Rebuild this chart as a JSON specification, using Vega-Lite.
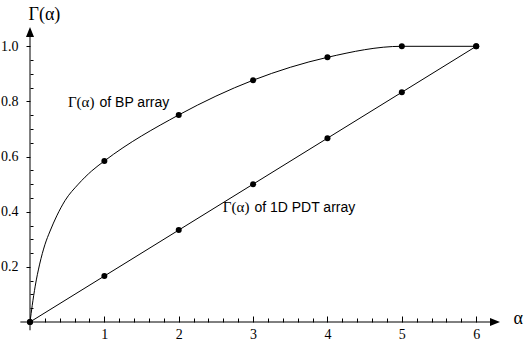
{
  "$schema": "https://vega.github.io/schema/vega-lite/v6.json",
  "width": 470,
  "height": 295,
  "autosize": {"type": "none"},
  "padding": {"left": 30, "top": 27, "right": 25, "bottom": 23},
  "background": "white",
  "config": {"view": {"stroke": null}},
  "datasets": {
    "bp_points": [
      {"alpha": 0, "gamma": 0}, {"alpha": 1, "gamma": 0.584}, {"alpha": 2, "gamma": 0.751},
      {"alpha": 3, "gamma": 0.877}, {"alpha": 4, "gamma": 0.96}, {"alpha": 5, "gamma": 1.0}, {"alpha": 6, "gamma": 1.0}
    ],
    "bp_curve": [
      {"alpha": 0, "gamma": 0}, {"alpha": 0.03, "gamma": 0.06}, {"alpha": 0.07, "gamma": 0.13},
      {"alpha": 0.13, "gamma": 0.21}, {"alpha": 0.2, "gamma": 0.28}, {"alpha": 0.27, "gamma": 0.33},
      {"alpha": 0.36, "gamma": 0.385}, {"alpha": 0.47, "gamma": 0.44}, {"alpha": 0.65, "gamma": 0.5},
      {"alpha": 0.83, "gamma": 0.548}, {"alpha": 1, "gamma": 0.584}, {"alpha": 2, "gamma": 0.751},
      {"alpha": 3, "gamma": 0.877}, {"alpha": 4, "gamma": 0.96}, {"alpha": 5, "gamma": 1.0}, {"alpha": 6, "gamma": 1.0}
    ],
    "pdt": [
      {"alpha": 0, "gamma": 0}, {"alpha": 1, "gamma": 0.1667}, {"alpha": 2, "gamma": 0.3333},
      {"alpha": 3, "gamma": 0.5}, {"alpha": 4, "gamma": 0.6667}, {"alpha": 5, "gamma": 0.8333}, {"alpha": 6, "gamma": 1.0}
    ],
    "axes_lines": [
      {"x": -0.13, "x2": 6.25, "y": 0, "y2": 0},
      {"x": 0, "x2": 0, "y": -0.03, "y2": 1.04}
    ],
    "arrows": [
      {"x": 0, "y": 1.07, "dir": "up"},
      {"x": 6.32, "y": 0, "dir": "right"}
    ],
    "labels": [
      {"x": 0.867, "y": 0.78, "g": "Γ(α)", "t": "of BP array"},
      {"x": 2.95, "y": 0.40, "g": "Γ(α)", "t": "of 1D PDT array"}
    ]
  },
  "layer": [
    {
      "data": {"name": "axes_lines"},
      "mark": {"type": "rule", "color": "black", "strokeWidth": 1},
      "encoding": {
        "x": {"field": "x", "type": "quantitative",
          "scale": {"domain": [0, 6.32], "nice": false, "zero": false},
          "axis": {
            "orient": "bottom", "domain": false, "grid": false, "tickCount": 200,
            "values": [0.2,0.4,0.6,0.8,1,1.2,1.4,1.6,1.8,2,2.2,2.4,2.6,2.8,3,3.2,3.4,3.6,3.8,4,4.2,4.4,4.6,4.8,5,5.2,5.4,5.6,5.8,6],
            "labelExpr": "datum.value % 1 === 0 ? format(datum.value, 'd') : ''",
            "labelOverlap": false, "labelFlush": false,
            "tickColor": "black", "tickWidth": 1,
            "tickSize": {"condition": {"test": "datum.value % 1 === 0", "value": -6}, "value": -4},
            "labelFont": "Liberation Serif", "labelFontSize": 14, "labelColor": "black", "labelPadding": 11,
            "title": "α", "titleFont": "Liberation Serif", "titleFontSize": 18, "titleFontWeight": "normal",
            "titleColor": "black", "titleAlign": "left", "titleBaseline": "alphabetic", "titleAnchor": null,
            "titleX": 483, "titleY": 1.5
          }
        },
        "x2": {"field": "x2"},
        "y": {"field": "y", "type": "quantitative",
          "scale": {"domain": [0, 1.07], "nice": false, "zero": false},
          "axis": {
            "orient": "left", "domain": false, "grid": false, "tickCount": 200,
            "values": [0.05,0.1,0.15,0.2,0.25,0.3,0.35,0.4,0.45,0.5,0.55,0.6,0.65,0.7,0.75,0.8,0.85,0.9,0.95,1],
            "labelExpr": "indexof([0.2,0.4,0.6,0.8,1], datum.value) >= 0 ? format(datum.value, '.1f') : ''",
            "labelOverlap": false, "labelFlush": false,
            "tickColor": "black", "tickWidth": 1,
            "tickSize": {"condition": {"test": "indexof([0.2,0.4,0.6,0.8,1], datum.value) >= 0", "value": 4}, "value": -3},
            "labelFont": "Liberation Serif", "labelFontSize": 14, "labelColor": "black", "labelPadding": 8,
            "title": "Γ(α)", "titleFont": "Liberation Serif", "titleFontSize": 18, "titleFontWeight": "normal",
            "titleColor": "black", "titleAngle": 0, "titleAlign": "left", "titleBaseline": "alphabetic", "titleAnchor": null,
            "titleX": -2, "titleY": -8
          }
        },
        "y2": {"field": "y2"}
      }
    },
    {
      "data": {"name": "arrows"},
      "transform": [{"filter": "datum.dir === 'up'"}],
      "mark": {"type": "point", "filled": true, "color": "black", "opacity": 1, "size": 100, "shape": "M0,0L0.8,2L-0.8,2Z"},
      "encoding": {"x": {"field": "x", "type": "quantitative"}, "y": {"field": "y", "type": "quantitative"}}
    },
    {
      "data": {"name": "arrows"},
      "transform": [{"filter": "datum.dir === 'right'"}],
      "mark": {"type": "point", "filled": true, "color": "black", "opacity": 1, "size": 100, "shape": "M0,0L-2,-0.8L-2,0.8Z"},
      "encoding": {"x": {"field": "x", "type": "quantitative"}, "y": {"field": "y", "type": "quantitative"}}
    },
    {
      "data": {"name": "bp_curve"},
      "mark": {"type": "line", "color": "black", "strokeWidth": 1, "interpolate": "monotone"},
      "encoding": {"x": {"field": "alpha", "type": "quantitative"}, "y": {"field": "gamma", "type": "quantitative"}}
    },
    {
      "data": {"name": "pdt"},
      "mark": {"type": "line", "color": "black", "strokeWidth": 1},
      "encoding": {"x": {"field": "alpha", "type": "quantitative"}, "y": {"field": "gamma", "type": "quantitative"}}
    },
    {
      "data": {"name": "bp_points"},
      "mark": {"type": "point", "filled": true, "color": "black", "opacity": 1, "size": 36, "shape": "circle"},
      "encoding": {"x": {"field": "alpha", "type": "quantitative"}, "y": {"field": "gamma", "type": "quantitative"}}
    },
    {
      "data": {"name": "pdt"},
      "mark": {"type": "point", "filled": true, "color": "black", "opacity": 1, "size": 36, "shape": "circle"},
      "encoding": {"x": {"field": "alpha", "type": "quantitative"}, "y": {"field": "gamma", "type": "quantitative"}}
    },
    {
      "data": {"name": "labels"},
      "mark": {"type": "text", "align": "right", "baseline": "alphabetic", "font": "Liberation Serif", "fontSize": 15, "color": "black"},
      "encoding": {"x": {"field": "x", "type": "quantitative"}, "y": {"field": "y", "type": "quantitative"}, "text": {"field": "g"}}
    },
    {
      "data": {"name": "labels"},
      "mark": {"type": "text", "align": "left", "baseline": "alphabetic", "font": "Liberation Sans", "fontSize": 14, "color": "black", "dx": 5},
      "encoding": {"x": {"field": "x", "type": "quantitative"}, "y": {"field": "y", "type": "quantitative"}, "text": {"field": "t"}}
    }
  ]
}
